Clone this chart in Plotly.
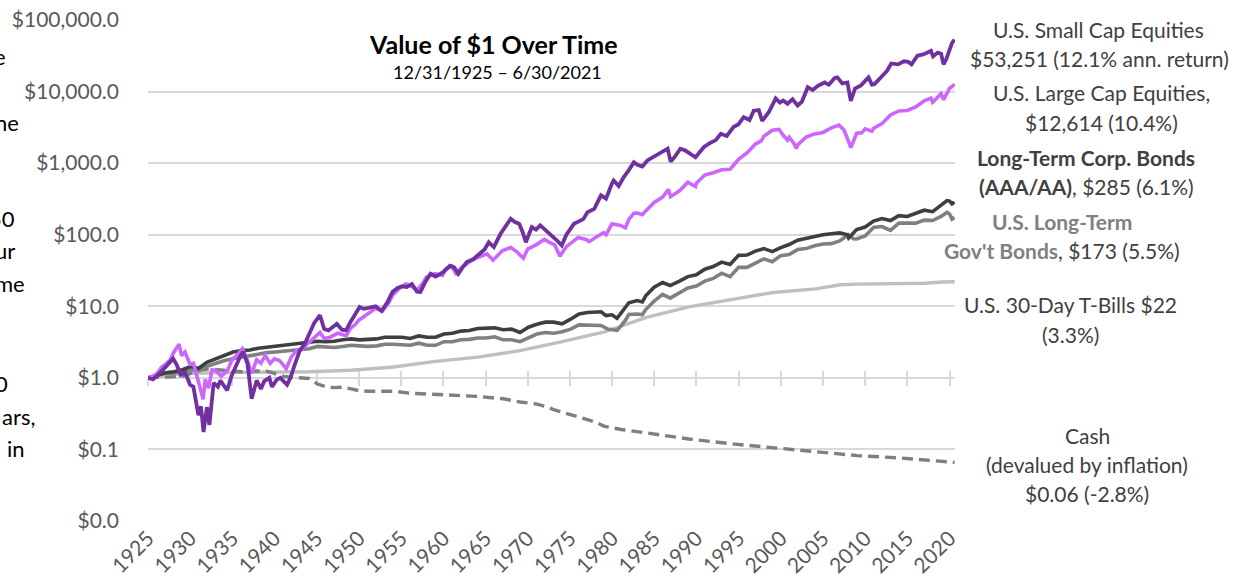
import plotly.graph_objects as go

# ---------------- data ----------------
SMALL_YEARS = [1925.92, 1926.5, 1927.3, 1928.0, 1928.9, 1929.3, 1929.8, 1930.3, 1930.9, 1931.3, 1931.9, 1932.2, 1932.5, 1932.9, 1933.2, 1933.7, 1934.2, 1934.5, 1935.3, 1935.8, 1936.1, 1936.9, 1937.2, 1937.7, 1938.2, 1938.8, 1939.3, 1939.7, 1940.3, 1940.6, 1941.2, 1941.6, 1942.4, 1942.8, 1943.2, 1943.9, 1944.5, 1945.1, 1945.6, 1946.3, 1946.8, 1947.3, 1947.8, 1948.3, 1948.9, 1949.4, 1949.9, 1950.5, 1951.0, 1951.5, 1952.3, 1952.9, 1953.6, 1954.3, 1954.9, 1955.5, 1956.0, 1956.6, 1957.2, 1957.8, 1958.2, 1958.8, 1959.4, 1960.0, 1960.9, 1961.7, 1962.2, 1962.7, 1963.2, 1963.7, 1964.5, 1965.3, 1965.8, 1966.3, 1966.9, 1967.7, 1968.3, 1968.9, 1969.4, 1969.9, 1970.3, 1970.7, 1971.4, 1971.9, 1972.4, 1972.9, 1973.6, 1974.3, 1974.95, 1975.5, 1976.4, 1976.9, 1977.5, 1978.0, 1978.8, 1979.6, 1980.2, 1980.9, 1981.1, 1981.7, 1982.3, 1982.9, 1983.5, 1983.9, 1984.5, 1985.1, 1985.9, 1986.5, 1987.5, 1987.85, 1988.3, 1989.0, 1989.6, 1990.8, 1991.3, 1991.8, 1992.5, 1993.2, 1993.8, 1994.5, 1995.3, 1995.9, 1996.5, 1997.2, 1997.7, 1998.3, 1998.7, 1998.9, 1999.5, 2000.3, 2000.8, 2001.2, 2001.7, 2002.3, 2002.9, 2003.4, 2004.1, 2004.7, 2005.3, 2006.1, 2006.6, 2007.3, 2007.6, 2008.2, 2008.8, 2009.2, 2009.7, 2010.4, 2010.9, 2011.3, 2011.7, 2012.0, 2012.7, 2013.5, 2014.0, 2014.8, 2015.5, 2016.0, 2016.4, 2017.1, 2017.8, 2018.7, 2018.95, 2019.5, 2019.9, 2020.2, 2020.5, 2020.9, 2021.2, 2021.5]
SMALL_VALUES = [1.00, 0.95, 1.15, 1.40, 1.85, 1.55, 1.10, 1.20, 0.80, 0.75, 0.30, 0.40, 0.175, 0.39, 0.22, 0.85, 0.75, 0.92, 0.67, 1.05, 1.27, 2.05, 2.30, 1.60, 0.51, 0.92, 0.70, 0.90, 1.00, 0.75, 0.95, 1.00, 0.80, 1.00, 1.40, 2.40, 3.00, 4.40, 5.80, 7.50, 4.80, 4.60, 5.20, 5.70, 4.70, 4.60, 6.00, 7.80, 9.80, 9.20, 9.60, 10.0, 8.60, 11.5, 16.0, 18.0, 19.0, 18.6, 20.5, 16.0, 15.8, 22.0, 28.5, 26.0, 30.0, 37.0, 35.0, 28.5, 35.0, 41.6, 46.0, 54.5, 62.0, 78.5, 67.0, 103, 130, 167, 150, 142, 110, 78.5, 128, 118, 135, 120, 98, 85, 71, 100, 142, 150, 165, 206, 230, 355, 320, 520, 574, 480, 640, 800, 1030, 950, 900, 1090, 1250, 1350, 1590, 1050, 1210, 1590, 1500, 1210, 1450, 1680, 1900, 2100, 2570, 2400, 3200, 3500, 4400, 4000, 5400, 5500, 3900, 4200, 5200, 8000, 7000, 7500, 6750, 7800, 6400, 7200, 11500, 10500, 12000, 13400, 12500, 15500, 15800, 13000, 13400, 7400, 11000, 12200, 14000, 15800, 12500, 12700, 15500, 19500, 24700, 24000, 26500, 26000, 24000, 31800, 33000, 37000, 31000, 35000, 33800, 24000, 28000, 37000, 48000, 53251]

LARGE_YEARS = [1925.92, 1926.5, 1927.0, 1927.5, 1928.0, 1928.5, 1929.0, 1929.6, 1929.9, 1930.3, 1930.9, 1931.3, 1931.9, 1932.45, 1932.7, 1933.1, 1933.5, 1934.0, 1934.6, 1935.3, 1935.9, 1936.5, 1937.1, 1937.7, 1938.2, 1938.8, 1939.3, 1939.8, 1940.4, 1940.9, 1941.5, 1942.3, 1942.9, 1943.5, 1944.0, 1944.8, 1945.5, 1946.3, 1946.8, 1947.5, 1948.4, 1949.4, 1949.9, 1950.5, 1950.9, 1951.5, 1952.0, 1952.9, 1953.7, 1954.5, 1954.9, 1955.5, 1955.9, 1956.5, 1957.0, 1957.8, 1958.5, 1958.9, 1959.5, 1959.9, 1960.8, 1961.2, 1961.9, 1962.5, 1962.9, 1963.5, 1963.9, 1964.9, 1965.5, 1966.1, 1966.8, 1967.9, 1968.9, 1969.6, 1970.4, 1970.9, 1971.9, 1972.9, 1973.5, 1974.1, 1974.75, 1974.9, 1975.5, 1975.9, 1976.9, 1977.9, 1978.2, 1978.9, 1979.9, 1980.2, 1980.9, 1981.9, 1982.5, 1982.9, 1983.5, 1983.9, 1984.5, 1984.9, 1985.9, 1986.9, 1987.6, 1987.85, 1988.9, 1989.9, 1990.8, 1990.9, 1991.9, 1992.9, 1993.9, 1994.9, 1995.9, 1996.9, 1997.9, 1998.6, 1998.9, 1999.9, 2000.7, 2001.2, 2001.7, 2001.9, 2002.5, 2002.75, 2002.9, 2003.9, 2004.9, 2005.9, 2006.9, 2007.8, 2008.4, 2008.9, 2009.2, 2009.9, 2010.5, 2010.9, 2011.7, 2011.9, 2012.9, 2013.9, 2014.9, 2015.9, 2016.9, 2017.9, 2018.7, 2018.9, 2019.9, 2020.2, 2020.9, 2021.5]
LARGE_VALUES = [1.00, 1.05, 1.15, 1.40, 1.55, 1.75, 2.30, 2.95, 2.05, 2.30, 1.55, 1.60, 0.88, 0.50, 0.95, 0.72, 1.30, 1.25, 1.05, 1.25, 1.80, 2.10, 2.55, 1.75, 1.15, 1.80, 1.60, 2.05, 1.60, 1.85, 1.75, 1.35, 1.95, 2.40, 2.45, 2.95, 3.50, 4.30, 3.55, 3.70, 4.20, 3.90, 4.90, 5.60, 6.40, 7.20, 8.00, 9.40, 8.60, 11.5, 14.3, 16.5, 18.7, 20.5, 19.5, 16.8, 21.0, 25.5, 27.5, 28.6, 27.0, 33.0, 36.5, 27.5, 33.3, 37.5, 40.9, 47.6, 50.0, 54.0, 44.0, 59.7, 66.3, 58.0, 47.0, 63.1, 72.2, 85.9, 78.0, 72.0, 50.0, 53.9, 68.0, 74.0, 91.6, 85.0, 80.0, 90.6, 107, 100, 142, 135, 125, 164, 200, 201, 190, 214, 282, 335, 430, 340, 410, 540, 470, 523, 682, 734, 808, 819, 1127, 1386, 1848, 2050, 2376, 2876, 2950, 2450, 2100, 2304, 1850, 1600, 1795, 2309, 2561, 2687, 3111, 3400, 2900, 2068, 1650, 2615, 2650, 3009, 2800, 3072, 3564, 4718, 5364, 5439, 6090, 7419, 8100, 7094, 9327, 7700, 11043, 12614]

CORP_YEARS = [1925.92, 1927.0, 1928.0, 1929.0, 1930.0, 1931.0, 1931.9, 1932.9, 1934.0, 1935.0, 1936.0, 1937.0, 1938.0, 1939.0, 1940.0, 1941.0, 1942.0, 1943.0, 1944.0, 1945.0, 1946.0, 1947.0, 1948.0, 1949.0, 1950.0, 1951.0, 1952.0, 1953.0, 1954.0, 1955.0, 1956.0, 1957.0, 1958.0, 1959.0, 1960.0, 1961.0, 1962.0, 1963.0, 1964.0, 1965.0, 1966.0, 1967.0, 1968.0, 1969.0, 1970.0, 1971.0, 1972.0, 1973.0, 1974.0, 1975.0, 1976.0, 1977.0, 1978.0, 1979.0, 1979.6, 1980.2, 1980.9, 1981.5, 1981.9, 1982.5, 1982.9, 1983.9, 1984.5, 1984.9, 1985.9, 1986.9, 1987.8, 1988.9, 1989.9, 1990.9, 1991.9, 1992.9, 1993.9, 1994.9, 1995.9, 1996.9, 1997.9, 1998.9, 1999.9, 2000.9, 2001.9, 2002.9, 2003.9, 2004.9, 2005.9, 2006.9, 2007.9, 2008.8, 2008.95, 2009.9, 2010.9, 2011.9, 2012.9, 2013.9, 2014.9, 2015.9, 2016.9, 2017.9, 2018.9, 2019.9, 2020.6, 2020.9, 2021.2, 2021.5]
CORP_VALUES = [1.00, 1.09, 1.18, 1.22, 1.30, 1.45, 1.35, 1.65, 1.85, 2.10, 2.30, 2.40, 2.45, 2.60, 2.70, 2.80, 2.85, 2.95, 3.05, 3.15, 3.25, 3.20, 3.25, 3.40, 3.50, 3.40, 3.45, 3.50, 3.70, 3.75, 3.70, 3.55, 3.85, 3.70, 3.70, 4.10, 4.20, 4.50, 4.60, 4.90, 4.90, 5.00, 4.70, 4.80, 4.30, 5.10, 5.60, 6.00, 6.00, 5.70, 6.60, 7.80, 8.20, 8.40, 8.40, 7.40, 7.60, 6.80, 7.80, 9.50, 11.2, 12.0, 11.5, 14.0, 18.5, 21.5, 19.5, 22.5, 26.0, 27.5, 33.0, 36.0, 41.5, 38.5, 51.5, 52.0, 59.0, 64.0, 58.0, 66.0, 73.0, 84.0, 89.0, 96.0, 100, 103, 106, 100, 90, 118, 128, 155, 168, 158, 185, 180, 200, 220, 210, 255, 300, 295, 270, 285]

GOV_YEARS = [1925.92, 1927.0, 1928.0, 1929.0, 1930.0, 1931.0, 1931.9, 1932.9, 1934.0, 1935.0, 1936.0, 1937.0, 1938.0, 1939.0, 1940.0, 1941.0, 1942.0, 1943.0, 1944.0, 1945.0, 1946.0, 1947.0, 1948.0, 1949.0, 1950.0, 1951.0, 1952.0, 1953.0, 1954.0, 1955.0, 1956.0, 1957.0, 1958.0, 1959.0, 1960.0, 1961.0, 1962.0, 1963.0, 1964.0, 1965.0, 1966.0, 1967.0, 1968.0, 1969.0, 1970.0, 1971.0, 1972.0, 1973.0, 1974.0, 1975.0, 1976.0, 1977.0, 1978.0, 1979.0, 1979.6, 1980.4, 1981.5, 1981.9, 1982.5, 1982.9, 1983.9, 1984.5, 1984.9, 1985.9, 1986.9, 1987.8, 1988.9, 1989.9, 1990.9, 1991.9, 1992.9, 1993.9, 1994.9, 1995.9, 1996.9, 1997.9, 1998.9, 1999.9, 2000.9, 2001.9, 2002.9, 2003.9, 2004.9, 2005.9, 2006.9, 2007.9, 2008.9, 2009.5, 2009.9, 2010.9, 2011.9, 2012.9, 2013.9, 2014.9, 2015.9, 2016.9, 2017.9, 2018.9, 2019.9, 2020.6, 2020.9, 2021.2, 2021.5]
GOV_VALUES = [1.00, 1.08, 1.16, 1.16, 1.23, 1.30, 1.25, 1.45, 1.60, 1.75, 1.85, 1.95, 2.00, 2.15, 2.25, 2.30, 2.35, 2.40, 2.45, 2.55, 2.75, 2.70, 2.65, 2.75, 2.85, 2.80, 2.75, 2.80, 2.95, 2.95, 2.90, 2.85, 3.05, 2.85, 2.85, 3.20, 3.20, 3.40, 3.45, 3.60, 3.60, 3.75, 3.40, 3.40, 3.20, 3.60, 4.10, 4.30, 4.20, 4.40, 4.80, 5.50, 5.50, 5.50, 5.40, 4.80, 4.60, 5.20, 6.40, 7.70, 7.80, 7.60, 9.00, 11.8, 14.7, 13.0, 15.5, 18.0, 19.2, 22.5, 24.5, 29.0, 26.0, 35.0, 35.0, 40.0, 46.0, 42.0, 51.0, 53.0, 62.0, 64.0, 70.0, 74.0, 75.0, 82.0, 100, 88.0, 87.0, 96.0, 126, 130, 115, 145, 145, 145, 160, 158, 180, 205, 195, 165, 173]

TBILL_YEARS = [1925.92, 1930, 1935, 1940, 1945, 1950, 1955, 1960, 1965, 1970, 1975, 1980, 1985, 1990, 1995, 2000, 2005, 2008, 2010, 2015, 2018, 2020, 2021.5]
TBILL_VALUES = [1.00, 1.15, 1.19, 1.20, 1.22, 1.28, 1.42, 1.70, 1.95, 2.40, 3.20, 4.40, 7.00, 9.80, 12.2, 15.6, 17.5, 20.0, 20.4, 20.5, 21.0, 21.8, 22.0]

CASH_YEARS = [1925.92, 1927, 1929, 1930, 1931, 1932, 1933, 1934, 1935, 1936, 1937, 1938, 1939, 1940, 1941, 1942, 1943, 1944, 1945, 1946, 1947, 1948, 1949, 1950, 1951, 1952, 1953, 1955, 1957, 1960, 1965, 1968, 1970, 1972, 1973, 1974, 1975, 1978, 1979, 1980, 1981, 1982, 1985, 1990, 1995, 2000, 2005, 2008, 2010, 2015, 2020, 2021.5]
CASH_VALUES = [1.00, 1.02, 1.03, 1.05, 1.16, 1.28, 1.33, 1.30, 1.27, 1.26, 1.22, 1.25, 1.26, 1.24, 1.15, 1.05, 1.02, 1.00, 0.98, 0.82, 0.75, 0.73, 0.74, 0.70, 0.66, 0.65, 0.65, 0.65, 0.61, 0.59, 0.55, 0.51, 0.46, 0.43, 0.40, 0.36, 0.33, 0.26, 0.24, 0.21, 0.20, 0.19, 0.17, 0.14, 0.12, 0.105, 0.092, 0.085, 0.082, 0.076, 0.069, 0.066]

X_LABEL_YEARS = list(range(1925, 2021, 5))
Y_TICK_VALUES = [0.01, 0.1, 1, 10, 100, 1000, 10000, 100000]
Y_TICK_TEXT = ["$0.0", "$0.1", "$1.0", "$10.0", "$100.0", "$1,000.0", "$10,000.0", "$100,000.0"]

TITLE = "Value of $1 Over Time"
SUBTITLE = "12/31/1925 \u2013 6/30/2021"

# ---------------- figure ----------------
FONT = "Lato"
W, H = 1246, 584
L, R, T, B = 148, 291, 20, 63
PW = W - L - R
PH = H - T - B
X_RANGE = [1925.92, 2021.55]
TICK_POS = [y + 11 / 12 for y in X_LABEL_YEARS]


def px(xp):
    return (xp - L) / PW


def py(yp):
    return (H - B - yp) / PH


fig = go.Figure()

series = [
    (TBILL_YEARS, TBILL_VALUES, "#BFBFBF", 3.4, "solid", "U.S. 30-Day T-Bills"),
    (CASH_YEARS, CASH_VALUES, "#7F7F7F", 3.4, "11px,6px", "Cash"),
    (GOV_YEARS, GOV_VALUES, "#808080", 3.6, "solid", "U.S. Long-Term Gov't Bonds"),
    (CORP_YEARS, CORP_VALUES, "#3F3F3F", 3.6, "solid", "Long-Term Corp. Bonds"),
    (LARGE_YEARS, LARGE_VALUES, "#CC66FF", 3.6, "solid", "U.S. Large Cap Equities"),
    (SMALL_YEARS, SMALL_VALUES, "#7030A0", 3.8, "solid", "U.S. Small Cap Equities"),
]
for xs, ys, col, w, dash, name in series:
    fig.add_trace(go.Scatter(x=xs, y=ys, mode="lines", name=name,
                             line=dict(color=col, width=w, dash=dash),
                             showlegend=False, hoverinfo="skip"))

# empty helper traces so the overlay axes are registered
fig.add_trace(go.Scatter(x=[], y=[], xaxis="x2", showlegend=False))
fig.add_trace(go.Scatter(x=[], y=[], xaxis="x3", showlegend=False))

axis_pos = (0 - (-2)) / 7.0  # $1.0 line in the log range [-2, 5]

fig.update_layout(
    width=W, height=H,
    margin=dict(l=L, r=R, t=T, b=B, autoexpand=False),
    paper_bgcolor="white", plot_bgcolor="white",
    font=dict(family=FONT, color="#404040"),
    xaxis=dict(range=X_RANGE, anchor="free", position=axis_pos,
               showgrid=False, zeroline=False, showline=True,
               linecolor="#D9D9D9", linewidth=2,
               tickmode="array", tickvals=TICK_POS, ticks="outside",
               ticklen=7, tickwidth=2, tickcolor="#D9D9D9",
               showticklabels=False, layer="below traces"),
    xaxis2=dict(range=X_RANGE, overlaying="x", anchor="free", position=axis_pos,
                showgrid=False, zeroline=False, showline=False,
                tickmode="array", tickvals=TICK_POS, ticks="inside",
                ticklen=7, tickwidth=2, tickcolor="#D9D9D9",
                showticklabels=False, layer="below traces"),
    xaxis3=dict(range=X_RANGE, overlaying="x", anchor="y", side="bottom",
                showgrid=False, zeroline=False, showline=False,
                tickmode="array", tickvals=TICK_POS,
                ticktext=[str(y) for y in X_LABEL_YEARS],
                ticks="", tickangle=-45,
                tickfont=dict(family=FONT, size=21, color="#595959")),
    yaxis=dict(type="log", range=[-2, 5], tickmode="array",
               tickvals=Y_TICK_VALUES, ticktext=Y_TICK_TEXT,
               showgrid=True, gridcolor="#D9D9D9", gridwidth=1.5,
               zeroline=False, showline=False, ticks="",
               ticklabelstandoff=28,
               tickfont=dict(family=FONT, size=21, color="#595959")),
)

ann = []


def add_text(xp, yp, text, size=21, color="#404040", xanchor="center"):
    ann.append(dict(xref="paper", yref="paper", x=px(xp), y=py(yp),
                    text=text, showarrow=False, xanchor=xanchor, yanchor="middle",
                    font=dict(family=FONT, size=size, color=color)))


# title
add_text(493, 44, "<b>" + TITLE + "</b>", size=25, color="#000000")
add_text(497, 72, SUBTITLE, size=18, color="#000000")

# right-hand series labels
add_text(1098, 29, "U.S. Small Cap Equities")
add_text(1099, 58, "$53,251 (12.1% ann. return)")
add_text(1101, 93, "U.S. Large Cap Equities,")
add_text(1101, 122, "$12,614 (10.4%)")
add_text(1086, 157, "<b>Long-Term Corp. Bonds</b>")
add_text(1086, 186, "<b>(AAA/AA)</b>, $285 (6.1%)")
add_text(1062, 221, "<b>U.S. Long-Term</b>", color="#808080")
add_text(1062, 250, "<span style='color:#808080'><b>Gov't Bonds</b></span>, $173 (5.5%)")
add_text(1070, 305, "U.S. 30-Day T-Bills $22")
add_text(1070, 334, "(3.3%)")
add_text(1087, 435, "Cash")
add_text(1087, 464, "(devalued by inflation)")
add_text(1087, 493, "$0.06 (-2.8%)")

# cropped text fragments visible on the left edge of the reference
for frag, xr, yc in [("e", 8, 57), ("ne", 21, 122), ("50", 17, 219), ("ur", 17, 251),
                     ("me", 27, 284), ("0", 10, 383), ("ars,", 37, 416), ("in", 27, 448)]:
    add_text(xr, yc, frag, size=22, color="#000000", xanchor="right")

fig.update_layout(annotations=ann)

fig.write_html("out.html", config={"displayModeBar": False},
               post_script="document.body.style.margin='0';")
